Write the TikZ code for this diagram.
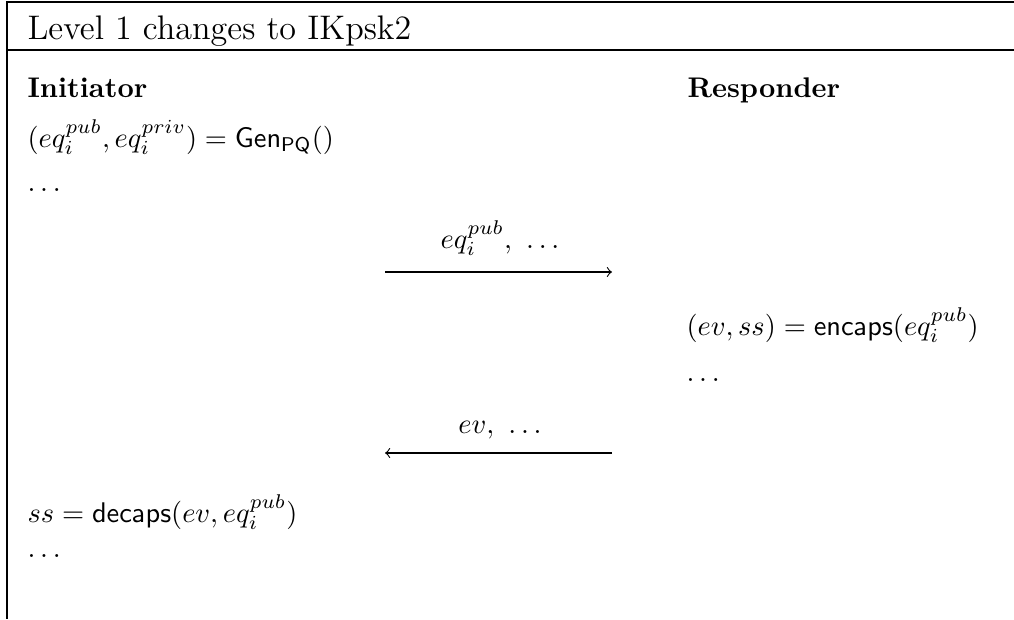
\documentclass[tikz,border=0pt]{standalone}
\usetikzlibrary{positioning}
\begin{document}
\begin{tikzpicture}[x=0.352pt,y=-0.352pt,txt/.style={anchor=base west,inner sep=0pt},msg/.style={anchor=base,inner sep=0pt},frame/.style={line width=0.5pt},line/.style={->}]
\useasboundingbox (0,0) rectangle (1014,619);
\draw[frame] (1014,2)--(7,2)--(7,619);\draw[frame] (7,50)--(1014,50);
\node[txt] (title) at (27,39) {\large Level 1 changes to IKpsk2};
\node[txt] (init) at (27,97) {\textbf{Initiator}};
\node[txt] (resp) at (687,97) {\textbf{Responder}};
\node[txt] (gen) at (27,147) {$(eq_i^{pub},eq_i^{priv})=\mathsf{Gen}_{\mathsf{PQ}}()$};
\node[txt] (dotsa) at (27,191) {$\dots$};
\node[msg] (msga) at (500,248) {$eq_i^{pub},\ \dots$};
\coordinate (msgas) at (385,272);\coordinate (msgae) at (612,272);
\node[txt] (enc) at (686,335) {$(ev,ss)=\mathsf{encaps}(eq_i^{pub})$};
\node[txt] (dotsb) at (686,381) {$\dots$};
\node[msg] (msgb) at (500,433) {$ev,\ \dots$};
\coordinate (msgbs) at (612,453);\coordinate (msgbe) at (385,453);
\node[txt] (dec) at (27,522) {$ss=\mathsf{decaps}(ev,eq_i^{pub})$};
\node[txt] (dotsc) at (27,557) {$\dots$};
\draw[line] (msgas)--(msgae);\draw[line] (msgbs)--(msgbe);
\end{tikzpicture}
\end{document}
